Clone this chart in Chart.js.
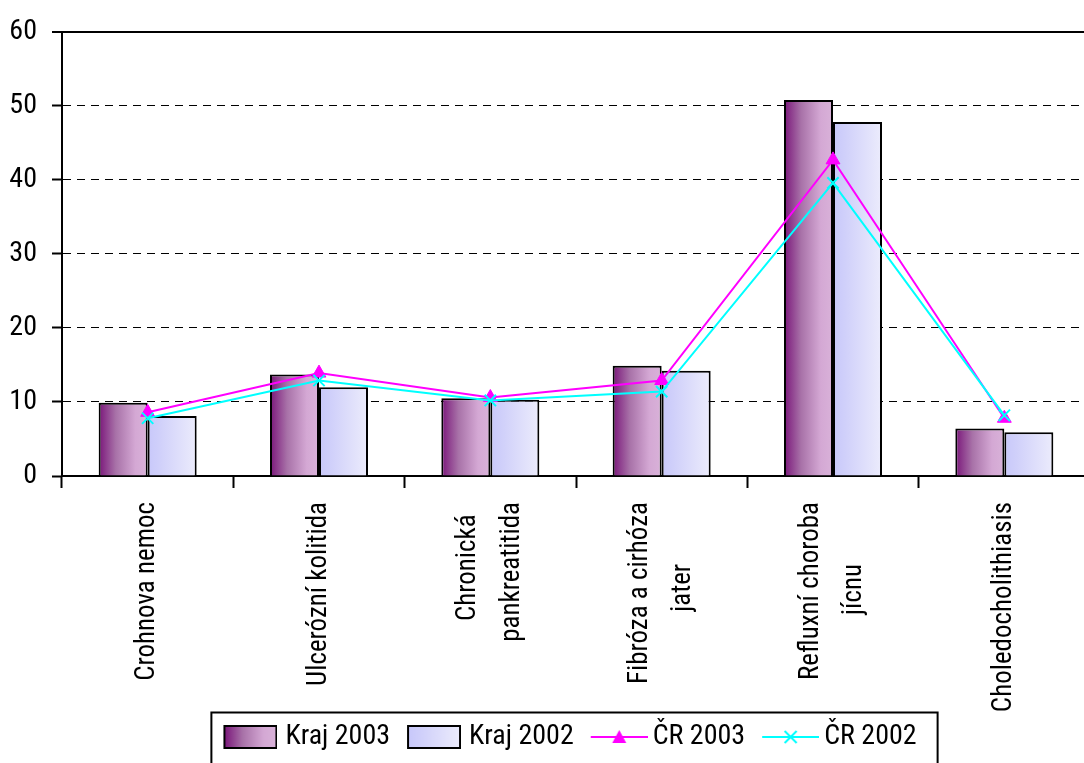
<!DOCTYPE html>
<html>
<head>
<meta charset="utf-8">
<script src="https://cdn.jsdelivr.net/npm/chart.js@4/dist/chart.umd.min.js"></script>
<style>
  body { margin: 0; background: #fff; overflow: hidden; }
  #chart { display: block; }
</style>
</head>
<body>
<canvas id="chart" width="1100" height="800"></canvas>
<script>
// values
const categories = [
    "Crohnova nemoc",
    "Ulcerózní kolitida",
    ["Chronická", "pankreatitida"],
    ["Fibróza a cirhóza", "jater"],
    ["Refluxní choroba", "jícnu"],
    "Choledocholithiasis"
];
const kraj2003 = [9.9, 13.7, 10.5, 14.9, 50.8, 6.4];
const kraj2002 = [8.1, 12.0, 10.3, 14.2, 47.8, 5.9];
const cr2003 = [8.6, 13.9, 10.6, 12.9, 42.7, 7.8];
const cr2002 = [7.8, 12.9, 10.2, 11.4, 39.6, 8.2];
const yTicks = [0, 10, 20, 30, 40, 50, 60];

const catPct = 0.572;
const purpleStops = [[0, "#7a167a"], [0.35, "#a872a8"], [0.75, "#d4a8d4"], [1, "#d9b2d9"]];
const blueStops = [[0, "#c8c8fa"], [0.25, "#d0d0fa"], [1, "#ececfc"]];

const fontFamily = '"Roboto Condensed", "Liberation Sans", Arial, sans-serif';
const labelSize = 27;
const labelLineHeight = 1.6;
Chart.defaults.font.family = fontFamily;
Chart.defaults.color = "#000";

// pad the shorter line of a two-line label so both lines sit centred
const measure = document.createElement("canvas").getContext("2d");
function centreLines(label) {
    if (!Array.isArray(label)) return label;
    measure.font = labelSize + "px " + fontFamily;
    const widths = label.map(t => measure.measureText(t).width);
    const max = Math.max(...widths);
    return label.map((t, i) => {
        let s = t;
        while (measure.measureText(s + " ").width - widths[i] <= (max - widths[i]) / 2) s += " ";
        return s;
    });
}

function barFill(c, stops) {
    const xs = c.chart.scales.x;
    if (!xs || c.dataIndex === undefined) return stops[1][1];
    const center = xs.getPixelForValue(c.dataIndex);
    const pair = xs.width / categories.length * catPct;
    const left = center - pair / 2 + (c.datasetIndex === 0 ? 0 : pair / 2);
    if (!isFinite(left) || pair <= 0) return stops[1][1];
    const g = c.chart.ctx.createLinearGradient(left, 0, left + pair / 2, 0);
    stops.forEach(s => g.addColorStop(s[0], s[1]));
    return g;
}

// legend pictures
function boxSwatch(stops) {
    const cv = document.createElement("canvas");
    cv.width = 60; cv.height = 24;
    const g = cv.getContext("2d");
    const gr = g.createLinearGradient(7, 0, 59, 0);
    stops.forEach(s => gr.addColorStop(s[0], s[1]));
    g.fillStyle = gr;
    g.fillRect(7, 1, 52, 22);
    g.strokeStyle = "#000";
    g.lineWidth = 2;
    g.strokeRect(7, 1, 52, 22);
    return cv;
}

function lineSwatch(color, marker) {
    const cv = document.createElement("canvas");
    cv.width = 66; cv.height = 20;
    const g = cv.getContext("2d");
    g.strokeStyle = color;
    g.fillStyle = color;
    g.lineWidth = 2;
    g.beginPath(); g.moveTo(9, 10); g.lineTo(66, 10); g.stroke();
    const mx = 37.5;
    if (marker === "triangle") {
        g.beginPath(); g.moveTo(mx, 3); g.lineTo(mx + 7, 16); g.lineTo(mx - 7, 16); g.closePath(); g.fill();
    } else {
        g.beginPath();
        g.moveTo(mx - 6, 4); g.lineTo(mx + 6, 16);
        g.moveTo(mx + 6, 4); g.lineTo(mx - 6, 16);
        g.stroke();
    }
    return cv;
}

const legendPics = [
    boxSwatch(purpleStops),
    boxSwatch(blueStops),
    lineSwatch("#ff00ff", "triangle"),
    lineSwatch("#00ffff", "cross")
];

const tweaks = {
    id: "tweaks",
    // legend sits higher than the layout puts it, over the long axis labels' room
    afterLayout(chart) {
        const lg = chart.legend;
        lg.top -= 25; lg.bottom -= 25;
        lg.left -= 6; lg.right -= 6;
    },
    // two-line category labels: centre the block on the tick instead of the first line
    beforeDraw(chart) {
        const xs = chart.scales.x;
        const lh = labelSize * labelLineHeight;
        xs.getLabelItems(chart.chartArea).forEach(it => {
            if (Array.isArray(it.label) && it.label.length > 1 && !it.moved) {
                it.options.translation[0] -= (it.label.length - 1) * lh / 2;
                it.moved = true;
            }
        });
    },
    afterDraw(chart) {
        const boxes = chart.legend.legendHitBoxes;
        if (!boxes || !boxes.length) return;
        const last = boxes[boxes.length - 1];
        const c = chart.ctx;
        c.save();
        c.strokeStyle = "#000";
        c.lineWidth = 2;
        c.strokeRect(boxes[0].left - 12, chart.legend.top + 6.5, last.left + last.width - boxes[0].left + 33, 90);
        c.restore();
    }
};

const chart = new Chart(document.getElementById("chart"), {
    type: "bar",
    data: {
        labels: categories,
        datasets: [{
            label: "Kraj 2003",
            data: kraj2003,
            order: 3,
            backgroundColor: c => barFill(c, purpleStops),
            borderColor: "#000",
            borderWidth: 2,
            categoryPercentage: catPct,
            barPercentage: 1
        }, {
            label: "Kraj 2002",
            data: kraj2002,
            order: 4,
            backgroundColor: c => barFill(c, blueStops),
            borderColor: "#000",
            borderWidth: 2,
            categoryPercentage: catPct,
            barPercentage: 1
        }, {
            type: "line",
            label: "ČR 2003",
            data: cr2003,
            order: 2,
            borderColor: "#ff00ff",
            backgroundColor: "#ff00ff",
            borderWidth: 2,
            pointStyle: "triangle",
            pointRadius: 8,
            pointBorderWidth: 1,
            tension: 0
        }, {
            type: "line",
            label: "ČR 2002",
            data: cr2002,
            order: 1,
            borderColor: "#00ffff",
            backgroundColor: "#00ffff",
            borderWidth: 2,
            pointStyle: "crossRot",
            pointRadius: 8,
            pointBorderWidth: 2,
            tension: 0
        }]
    },
    options: {
        responsive: false,
        animation: false,
        devicePixelRatio: 1,
        layout: { padding: { top: 30, right: 6, bottom: 14, left: 0 } },
        plugins: {
            tooltip: { enabled: false },
            legend: {
                position: "bottom",
                fullSize: false,
                labels: {
                    usePointStyle: true,
                    pointStyleWidth: 48,
                    padding: 17,
                    font: { size: 28 },
                    generateLabels: chart => chart.data.datasets.map((ds, i) => ({
                        text: ds.label,
                        pointStyle: legendPics[i],
                        fillStyle: "rgba(0,0,0,0)",
                        strokeStyle: "rgba(0,0,0,0)",
                        lineWidth: 0,
                        datasetIndex: i
                    }))
                }
            }
        },
        scales: {
            x: {
                grid: { offset: true, drawOnChartArea: false, tickLength: 12, tickWidth: 2, color: "#000" },
                border: { color: "#000", width: 2 },
                ticks: {
                    autoSkip: false,
                    maxRotation: 90,
                    minRotation: 90,
                    padding: 14,
                    font: { size: labelSize, lineHeight: labelLineHeight },
                    callback: (v, i) => centreLines(categories[i])
                },
                afterFit(scale) { scale.height = 255; }
            },
            y: {
                min: 0,
                max: 60,
                afterBuildTicks(scale) { scale.ticks = yTicks.map(v => ({ value: v })); },
                ticks: { padding: 15, font: { size: 28 } },
                grid: {
                    color: c => (c.tick && c.tick.value === 0) ? "rgba(0,0,0,0)" : "#000",
                    lineWidth: c => (c.tick && c.tick.value === 60) ? 2 : 1,
                    tickLength: 10,
                    tickWidth: 2,
                    tickColor: "#000"
                },
                border: {
                    color: "#000",
                    width: 2,
                    dash: c => (c.tick && c.tick.value === 60) ? [] : [8, 6]
                },
                afterFit(scale) { scale.width = 62; }
            }
        }
    },
    plugins: [tweaks]
});
</script>
</body>
</html>
